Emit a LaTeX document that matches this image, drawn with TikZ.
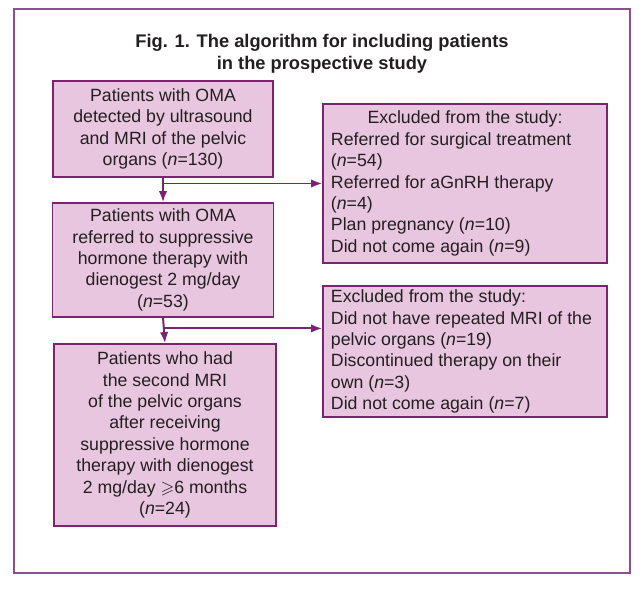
\documentclass[tikz,border=0pt]{standalone}
\usepackage{fontspec}
\setmainfont{Liberation Sans}
\usepackage{amssymb}
\usepackage{xcolor}
\usepackage{tikz}
\usetikzlibrary{arrows.meta,positioning,calc}

\definecolor{boxfill}{HTML}{E8C6DF}
\definecolor{boxline}{HTML}{7B2270}
\definecolor{framecol}{HTML}{8F4F8F}
\definecolor{textcol}{HTML}{231F20}

\begin{document}
\begin{tikzpicture}[x=0.025cm, y=-0.025cm,
    box/.style={draw=boxline, line width=0.9pt, fill=boxfill, text=textcol,
        font=\fontsize{12.6}{15.2}\selectfont, inner sep=0pt},
    mainbox/.style={box, align=center},
    exclbox/.style={box, align=flush left, text width=6.7cm, minimum width=7.1cm},
    arr/.style={draw=boxline, line width=1.4pt, -{Latex[length=8pt,width=6pt]}}]
\useasboundingbox (0,0) rectangle (643,591);

% Frame and title
\draw[framecol, line width=1.2pt] (14,9) rectangle (630,573);
\node[font=\bfseries\fontsize{13}{15.5}\selectfont, align=center, text=textcol] (title) at (322,54)
    {Fig. 1. The algorithm for including patients\\in the prospective study};

% Main path
\node[mainbox, minimum width=5.5cm, minimum height=2.4cm] (oma) at (163,129)
    {Patients with OMA\\detected by ultrasound\\and MRI of the pelvic\\organs (\textit{n}=130)};
\node[mainbox, minimum width=5.525cm, minimum height=2.85cm] (therapy) at (163,260)
    {Patients with OMA\\referred to suppressive\\hormone therapy with\\dienogest 2 mg/day\\(\textit{n}=53)};
\node[mainbox, minimum width=5.55cm, minimum height=4.55cm] (second) at (165,435)
    {Patients who had\\the second MRI\\of the pelvic organs\\after receiving\\suppressive hormone\\therapy with dienogest\\2 mg/day $\geqslant$6 months\\(\textit{n}=24)};

% Excluded
\node[exclbox, minimum height=3.975cm] (excl1) at (465,183.5)
    {\makebox[6.7cm][c]{Excluded from the study:}\\
     Referred for surgical treatment\\(\textit{n}=54)\\
     Referred for aGnRH therapy\\(\textit{n}=4)\\
     Plan pregnancy (\textit{n}=10)\\
     Did not come again (\textit{n}=9)};
\node[exclbox, minimum height=3.275cm] (excl2) at (465,351.5)
    {Excluded from the study:\\
     Did not have repeated MRI of the\\pelvic organs (\textit{n}=19)\\
     Discontinued therapy on their\\own (\textit{n}=3)\\
     Did not come again (\textit{n}=7)};

% Connectors
\draw[arr] (oma.south) -- (therapy.north);
\draw[arr] (oma.south |- excl1.west) -- (excl1.west);
\draw[arr] (therapy.south) -- (second.north);
\coordinate (split2) at ($(therapy.south)!0.42!(second.north)$);
\draw[arr] (split2) -- (split2 -| excl2.west);
\end{tikzpicture}
\end{document}
